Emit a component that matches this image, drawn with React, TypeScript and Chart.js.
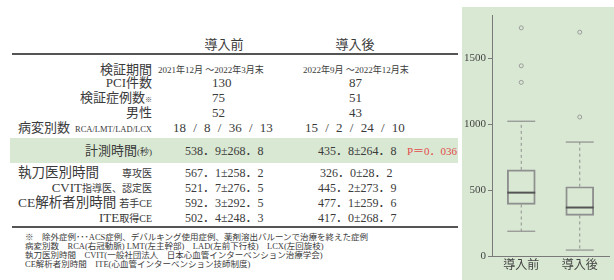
import React, { useEffect, useRef } from "react";
import { Chart, registerables } from "chart.js";

Chart.register(...registerables);

// ---- box plot data ----
const categories = ["導入前", "導入後"];
const q1 = [391, 308];
const median = [481, 368];
const q3 = [654, 526];
const whiskerLow = [188, 45];
const whiskerHigh = [1023, 865];
const outliersBefore = [1732, 1444, 1318];
const outliersAfter = [1699, 1055];
const yTicks = [0, 500, 1000, 1500];
const yMin = 0;
const yMax = 1825;

// ---- table data ----
const headers = ["導入前", "導入後"];
const periods = ["2021年12月 ～2022年3月末", "2022年9月 ～2022年12月末"];
const pciCounts = ["130", "87"];
const caseCounts = ["75", "51"];
const maleCounts = ["52", "43"];
const lesionCounts = ["18 / 8 / 36 / 13", "15 / 2 / 24 / 10"];
const measureTimes = ["538．9±268．8", "435．8±264．8"];
const pValue = "P＝0．036";
const residentTimes = ["567．1±258．2", "326．0±28．2"];
const cvitTimes = ["521．7±276．5", "445．2±273．9"];
const youngCeTimes = ["592．3±292．5", "477．1±259．6"];
const iteCeTimes = ["502．4±248．3", "417．0±268．7"];
const footnotes = [
  "※　除外症例･･･ACS症例、デバルキング使用症例、薬剤溶出バルーンで治療を終えた症例",
  "病変別数　RCA(右冠動脈) LMT(左主幹部)　LAD(左前下行枝)　LCX(左回旋枝)",
  "執刀医別時間　CVIT(一般社団法人　日本心血管インターベンション治療学会)",
  "CE解析者別時間　ITE(心血管インターベンション技師制度)",
];

const FONT = "'Liberation Serif', 'Noto Sans CJK JP', serif";
const TXT = "#3a3a3a";
const GREEN = "#d9e8d2";

type TProps = {
  x: number;
  y: number;
  align?: "left" | "right" | "center";
  size?: number;
  color?: string;
  style?: React.CSSProperties;
  children: React.ReactNode;
};

function T({ x, y, align = "left", size = 13, color = TXT, style, children }: TProps) {
  const w = 400;
  let left = x;
  if (align === "right") left = x - w;
  if (align === "center") left = x - w / 2;
  return (
    <div
      style={{
        position: "absolute",
        left,
        top: y - 10,
        width: w,
        height: 20,
        lineHeight: "20px",
        textAlign: align,
        fontSize: size,
        fontWeight: 400,
        color,
        fontFamily: FONT,
        whiteSpace: "pre",
        ...style,
      }}
    >
      {children}
    </div>
  );
}

const boxPlugin = {
  id: "boxWhiskers",
  afterDatasetsDraw(chart: any) {
    const { ctx, scales } = chart;
    const x = scales.x;
    const y = scales.y;
    const meta = chart.getDatasetMeta(0);
    const seg = (x1: number, y1: number, x2: number, y2: number) => {
      ctx.beginPath();
      ctx.moveTo(x1, y1);
      ctx.lineTo(x2, y2);
      ctx.stroke();
    };
    categories.forEach((_, i) => {
      const bar = meta.data[i];
      const cx = x.getPixelForValue(i);
      const half = bar.width / 2;
      const yHi = y.getPixelForValue(whiskerHigh[i]);
      const yLo = y.getPixelForValue(whiskerLow[i]);
      const yQ1 = y.getPixelForValue(q1[i]);
      const yQ3 = y.getPixelForValue(q3[i]);
      const yMed = y.getPixelForValue(median[i]);
      ctx.save();
      ctx.strokeStyle = "#8f8f8f";
      ctx.lineWidth = 1;
      ctx.setLineDash([3, 3]);
      seg(cx, yQ3, cx, yHi);
      seg(cx, yQ1, cx, yLo);
      ctx.setLineDash([]);
      ctx.lineWidth = 1.2;
      seg(cx - half, yHi, cx + half, yHi);
      seg(cx - half, yLo, cx + half, yLo);
      ctx.strokeStyle = "#555555";
      ctx.lineWidth = 2;
      seg(cx - half, yMed, cx + half, yMed);
      ctx.restore();
    });
  },
};

function BoxChart() {
  const ref = useRef<HTMLCanvasElement | null>(null);
  useEffect(() => {
    if (!ref.current) return;
    const outlierPoints = [
      ...outliersBefore.map((v) => ({ x: categories[0], y: v })),
      ...outliersAfter.map((v) => ({ x: categories[1], y: v })),
    ];
    const chart = new Chart(ref.current, {
      type: "bar",
      data: {
        labels: categories,
        datasets: [
          {
            type: "bar",
            data: categories.map((_, i) => [q1[i], q3[i]]) as any,
            backgroundColor: "rgba(0,0,0,0)",
            borderColor: "#8f8f8f",
            borderWidth: 1.3,
            borderSkipped: false,
            barThickness: 28,
            grouped: false,
          } as any,
          {
            type: "line",
            data: outlierPoints as any,
            showLine: false,
            pointRadius: 2,
            pointBorderWidth: 1,
            pointBorderColor: "#9a9a9a",
            pointBackgroundColor: "rgba(0,0,0,0)",
          } as any,
        ],
      },
      options: {
        animation: false,
        responsive: false,
        maintainAspectRatio: false,
        layout: { padding: { top: 7, right: 4, left: 0, bottom: 0 } },
        plugins: { legend: { display: false }, tooltip: { enabled: false } },
        scales: {
          x: {
            grid: { display: false, drawTicks: false },
            border: { display: true, color: "#7a7a7a", width: 1 },
            ticks: { color: "#444", font: { family: FONT, size: 12 }, padding: 3 },
            afterFit: (s: any) => {
              s.height = 24;
            },
          },
          y: {
            min: yMin,
            max: yMax,
            afterBuildTicks: (s: any) => {
              s.ticks = yTicks.map((v) => ({ value: v }));
            },
            grid: {
              drawOnChartArea: false,
              drawTicks: true,
              tickLength: 4,
              tickColor: "#7a7a7a",
            },
            border: { display: true, color: "#7a7a7a", width: 1 },
            ticks: {
              color: "#444",
              font: { family: FONT, size: 11 },
              padding: 2,
              callback: (v: any) => String(v),
            },
            afterFit: (s: any) => {
              s.width = 30;
            },
          },
        },
      } as any,
      plugins: [boxPlugin],
    });
    return () => chart.destroy();
  }, []);
  return <canvas ref={ref} width={152} height={273} style={{ display: "block" }} />;
}

export default function App() {
  const labelRight = 152;
  const c1 = 185;
  const c2 = 318;
  return (
    <div
      style={{
        position: "absolute",
        left: 0,
        top: 0,
        width: 614,
        height: 280,
        overflow: "hidden",
        background: "#ffffff",
        fontFamily: FONT,
      }}
    >
      {/* header */}
      <T x={224} y={45} align="center" size={13}>{headers[0]}</T>
      <T x={355} y={45} align="center" size={13}>{headers[1]}</T>
      <div style={{ position: "absolute", left: 12, top: 53, width: 446, height: 2, background: "#555" }} />

      <T x={labelRight} y={70} align="right">検証期間</T>
      <T x={211} y={70} align="center" size={9}>{periods[0]}</T>
      <T x={356} y={70} align="center" size={9}>{periods[1]}</T>

      <T x={labelRight} y={83} align="right">PCI件数</T>
      <T x={212} y={83}>{pciCounts[0]}</T>
      <T x={349} y={83}>{pciCounts[1]}</T>

      <T x={labelRight} y={98} align="right">
        検証症例数<span style={{ fontSize: 7 }}>※</span>
      </T>
      <T x={212} y={98}>{caseCounts[0]}</T>
      <T x={349} y={98}>{caseCounts[1]}</T>

      <T x={labelRight} y={113} align="right">男性</T>
      <T x={212} y={113}>{maleCounts[0]}</T>
      <T x={349} y={113}>{maleCounts[1]}</T>

      <T x={18} y={128} size={13}>病変別数</T>
      <T x={labelRight} y={129} align="right" size={8.5}>RCA/LMT/LAD/LCX</T>
      <T x={173} y={128} style={{ wordSpacing: 4 }}>{lesionCounts[0]}</T>
      <T x={305} y={128} style={{ wordSpacing: 4 }}>{lesionCounts[1]}</T>

      {/* highlighted row */}
      <div style={{ position: "absolute", left: 10, top: 138, width: 448, height: 25, background: GREEN }} />
      <T x={labelRight} y={151} align="right">
        計測時間<span style={{ fontSize: 9 }}>(秒)</span>
      </T>
      <T x={c1} y={151} size={12}>{measureTimes[0]}</T>
      <T x={c2} y={151} size={12}>{measureTimes[1]}</T>
      <T x={407} y={151} size={11} color="#e24b4b">{pValue}</T>

      <T x={18} y={173} size={13.5}>執刀医別時間</T>
      <T x={labelRight} y={174} align="right" size={10}>専攻医</T>
      <T x={c1} y={173} size={12}>{residentTimes[0]}</T>
      <T x={320} y={173} size={12}>{residentTimes[1]}</T>

      <T x={labelRight} y={188} align="right">
        CVIT<span style={{ fontSize: 10 }}>指導医、認定医</span>
      </T>
      <T x={c1} y={188} size={12}>{cvitTimes[0]}</T>
      <T x={c2} y={188} size={12}>{cvitTimes[1]}</T>

      <T x={18} y={203} size={13.5}>CE解析者別時間</T>
      <T x={labelRight} y={204} align="right" size={10}>若手CE</T>
      <T x={c1} y={203} size={12}>{youngCeTimes[0]}</T>
      <T x={c2} y={203} size={12}>{youngCeTimes[1]}</T>

      <T x={labelRight} y={218} align="right">
        ITE<span style={{ fontSize: 10 }}>取得CE</span>
      </T>
      <T x={c1} y={218} size={12}>{iteCeTimes[0]}</T>
      <T x={c2} y={218} size={12}>{iteCeTimes[1]}</T>

      <div style={{ position: "absolute", left: 12, top: 226, width: 446, height: 2, background: "#555" }} />

      {footnotes.map((f, i) => (
        <T key={i} x={25} y={237 + i * 9} size={8.5} style={{ height: 10, lineHeight: "10px", top: 232 + i * 9 }}>
          {f}
        </T>
      ))}

      {/* box plot panel */}
      <div style={{ position: "absolute", left: 462, top: 7, width: 152, height: 273, background: GREEN }}>
        <BoxChart />
      </div>
    </div>
  );
}
